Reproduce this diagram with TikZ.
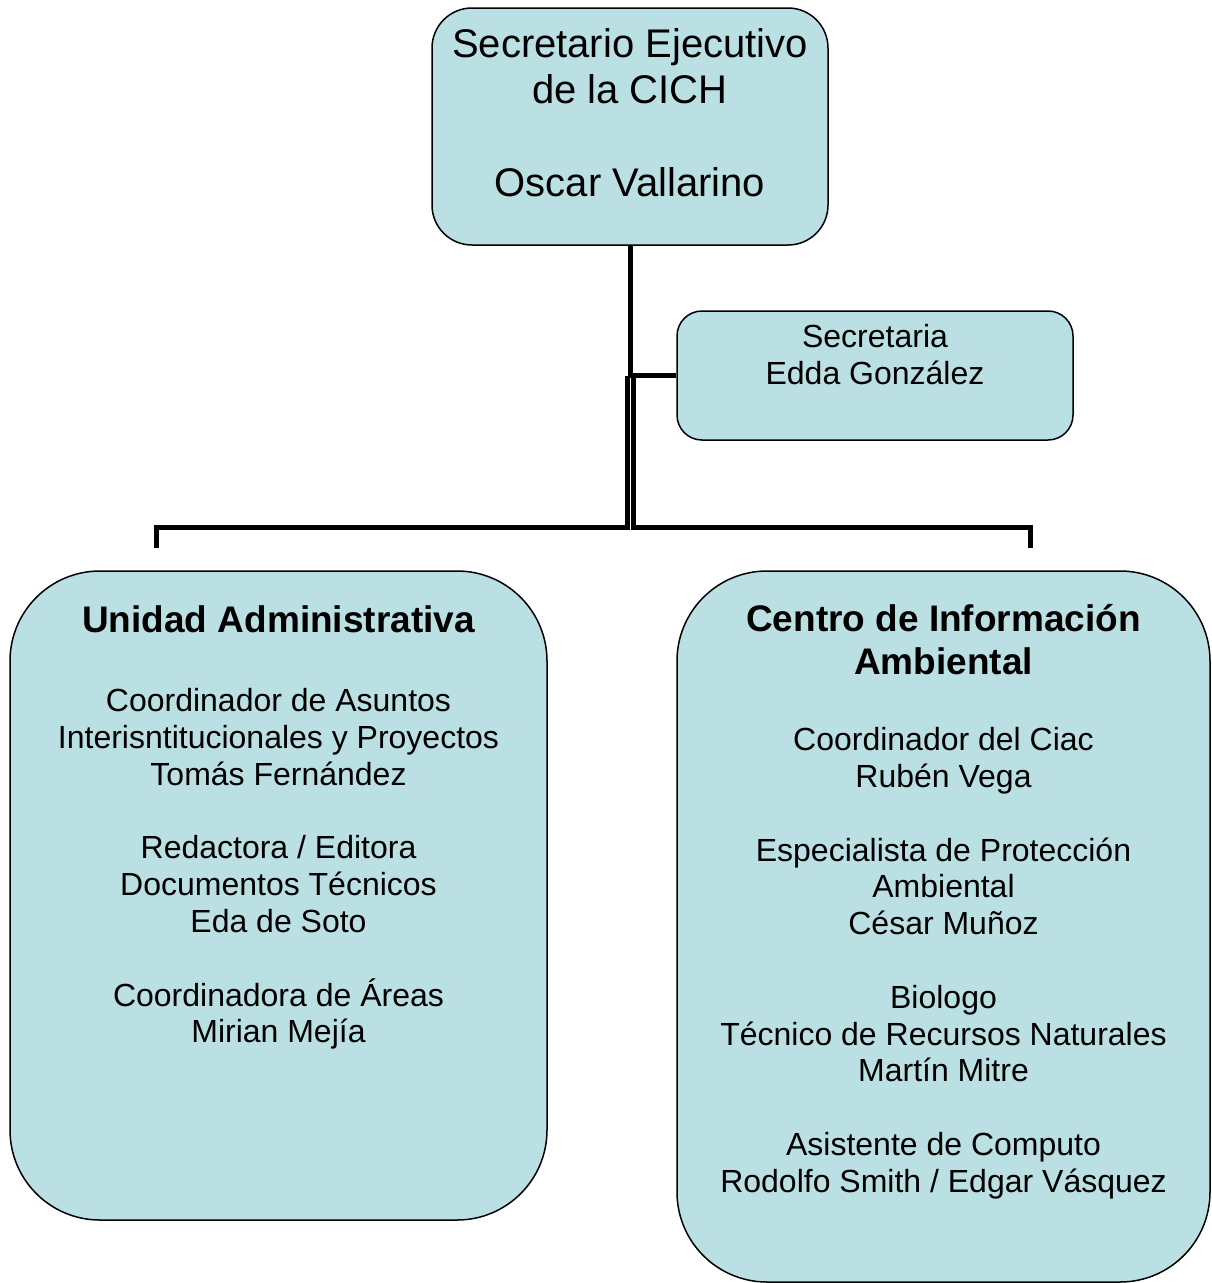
\documentclass[tikz,border=0pt]{standalone}
\usepackage{fontspec}
\setmainfont{Liberation Sans}
\usetikzlibrary{positioning}
\definecolor{celeste}{RGB}{187,224,227}
\tikzset{
  caja/.style={draw=black, line width=1.5pt, fill=celeste, inner sep=0pt},
  linea/.style={line width=5pt},
  textoGrande/.style={align=center, inner sep=0pt, font=\fontsize{40}{46}\selectfont},
  texto/.style={align=center, inner sep=0pt, font=\fontsize{32}{36.8}\selectfont},
  titulo/.style={align=center, inner sep=0pt, font=\fontsize{37}{43}\selectfont\bfseries},
}
\begin{document}
\begin{tikzpicture}[x=1pt,y=-1pt]
  \useasboundingbox (0,0) rectangle (1211,1283);
  % cajas
  \node[caja, rounded corners=40pt, minimum width=396pt, minimum height=237pt] (jefe) at (630,126.5) {};
  \node[caja, rounded corners=25pt, minimum width=396pt, minimum height=129pt] (secre) at (875,375.5) {};
  \node[caja, rounded corners=90pt, minimum width=537pt, minimum height=649pt] (admin) at (278.5,895.5) {};
  \node[caja, rounded corners=90pt, minimum width=533pt, minimum height=711pt] (centro) at (943.5,926.5) {};

  % textos
  \node[textoGrande, below=21pt of jefe.north] (jefeTxt)
    {Secretario Ejecutivo\\de la CICH\\[47pt]Oscar Vallarino};
  \node[texto, below=14pt of secre.north] (secreTxt) {Secretaria\\Edda González};
  \node[titulo, below=35pt of admin.north] (adminTit) {Unidad Administrativa};
  \node[texto, below=118pt of admin.north] (adminTxt)
    {Coordinador de Asuntos\\Interisntitucionales y Proyectos\\Tomás Fernández\\[36.8pt]
     Redactora / Editora\\Documentos Técnicos\\Eda de Soto\\[36.8pt]
     Coordinadora de Áreas\\Mirian Mejía};
  \node[titulo, below=34pt of centro.north] (centroTit) {Centro de Información\\Ambiental};
  \node[texto, below=157pt of centro.north] (centroTxt)
    {Coordinador del Ciac\\Rubén Vega\\[36.8pt]
     Especialista de Protección\\Ambiental\\César Muñoz\\[36.8pt]
     Biologo\\Técnico de Recursos Naturales\\Martín Mitre\\[36.8pt]
     Asistente de Computo\\Rodolfo Smith / Edgar Vásquez};

  % conectores
  \coordinate (nudo) at (jefe.south |- secre.west);
  \coordinate (nudoI) at ([xshift=-3pt]nudo);
  \coordinate (nudoD) at ([xshift=3.5pt,yshift=-2.5pt]nudo);
  \coordinate (codoI) at (156,527);
  \coordinate (izq) at (156,548);
  \coordinate (codoD) at (1030,527);
  \coordinate (der) at (1030,548);
  \draw[linea] (jefe.south) |- (secre.west);
  \draw[linea] (nudoI) |- (codoI) -- (izq);
  \draw[linea] (nudoD) |- (codoD) -- (der);
\end{tikzpicture}
\end{document}
